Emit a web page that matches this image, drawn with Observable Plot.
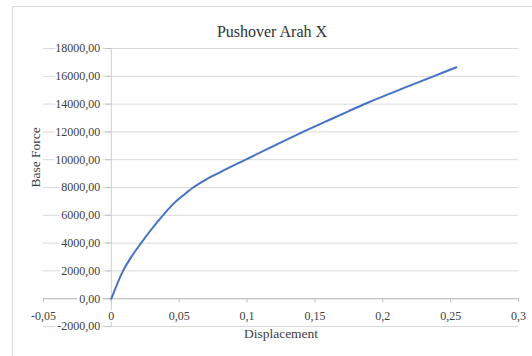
<!DOCTYPE html>
<html>
<head>
<meta charset="utf-8">
<script src="https://cdn.jsdelivr.net/npm/d3@7"></script>
<script src="https://cdn.jsdelivr.net/npm/@observablehq/plot@0.6"></script>
<style>
  html, body { margin: 0; padding: 0; background: #fff; }
  #wrap { position: relative; width: 532px; height: 356px; overflow: hidden; }
  #border { position: absolute; left: 12px; top: 6px; width: 540px; height: 370px;
            border: 1px solid #d9d9d9; box-sizing: border-box; }
  #chart { position: absolute; left: 0; top: 0; }
</style>
</head>
<body>
<div id="wrap">
  <div id="border"></div>
  <div id="chart"></div>
</div>
<script>
// Pushover curve, direction X: roof displacement vs. base force
const displacement = [0, 0.0086, 0.015, 0.0219, 0.030, 0.038, 0.045, 0.050, 0.055, 0.060, 0.068, 0.080, 0.0975, 0.117, 0.137, 0.1565, 0.175, 0.1884, 0.22, 0.2542];
const baseForce    = [0, 2000, 3050, 4000, 5050, 6000, 6750, 7200, 7600, 7980, 8480, 9090, 9940, 10870, 11810, 12680, 13500, 14080, 15330, 16650];

const xTicks = [-0.05, 0, 0.05, 0.1, 0.15, 0.2, 0.25, 0.3];
const xTickLabels = ["-0,05", "0", "0,05", "0,1", "0,15", "0,2", "0,25", "0,3"];
const yTicks = [-2000, 0, 2000, 4000, 6000, 8000, 10000, 12000, 14000, 16000, 18000];
const yTickLabels = ["-2000,00", "0,00", "2000,00", "4000,00", "6000,00", "8000,00", "10000,00", "12000,00", "14000,00", "16000,00", "18000,00"];

const points = displacement.map((d, i) => ({disp: d, force: baseForce[i]}));
const serif = "'Liberation Serif', 'Times New Roman', serif";
const textColor = "#404040";

const chart = Plot.plot({
  width: 532,
  height: 356,
  marginLeft: 43,
  marginRight: 14,
  marginTop: 48,
  marginBottom: 30,
  style: {background: "transparent", fontFamily: serif, overflow: "visible"},
  x: {domain: [-0.05, 0.3], axis: null},
  y: {domain: [-2000, 18000], axis: null},
  marks: [
    // horizontal gridlines
    Plot.ruleY(yTicks, {stroke: "#d9d9d9", strokeWidth: 1}),
    // vertical axis at x = 0
    Plot.ruleX([0], {y1: -2000, y2: 18000, stroke: "#d0d0d0", strokeWidth: 1}),
    // horizontal axis at y = 0 with outward ticks
    Plot.ruleY([0], {stroke: "#bfbfbf", strokeWidth: 1}),
    Plot.ruleX(xTicks, {y1: 0, y2: 0, insetBottom: -4, stroke: "#bfbfbf", strokeWidth: 1}),
    Plot.ruleY(yTicks, {x1: 0, x2: 0, insetLeft: -5, stroke: "#bfbfbf", strokeWidth: 1}),
    // y tick labels, knocked out of the gridlines
    Plot.text(yTicks, {
      x: 0, y: d => d, text: (d, i) => yTickLabels[i],
      textAnchor: "end", dx: -11, fontSize: 12, fontFamily: serif,
      fill: textColor, stroke: "white", strokeWidth: 5
    }),
    // x tick labels
    Plot.text(xTicks, {
      x: d => d, y: 0, text: (d, i) => xTickLabels[i],
      dy: 17, fontSize: 12, fontFamily: serif,
      fill: textColor, stroke: "white", strokeWidth: 4
    }),
    // the curve
    Plot.line(points, {x: "disp", y: "force", stroke: "#4472c4", strokeWidth: 2, curve: "monotone-x"}),
    // title and axis titles
    Plot.text(["Pushover Arah X"], {frameAnchor: "top", dx: -9, dy: -23, fontSize: 16, fontFamily: serif, fill: "#333"}),
    Plot.text(["Displacement"], {frameAnchor: "bottom", dy: 11, fontSize: 13.5, fontFamily: serif, fill: textColor}),
    Plot.text(["Base Force"], {frameAnchor: "left", dx: -8, rotate: -90, fontSize: 13.5, fontFamily: serif, fill: textColor})
  ]
});

document.getElementById("chart").appendChild(chart);
</script>
</body>
</html>
